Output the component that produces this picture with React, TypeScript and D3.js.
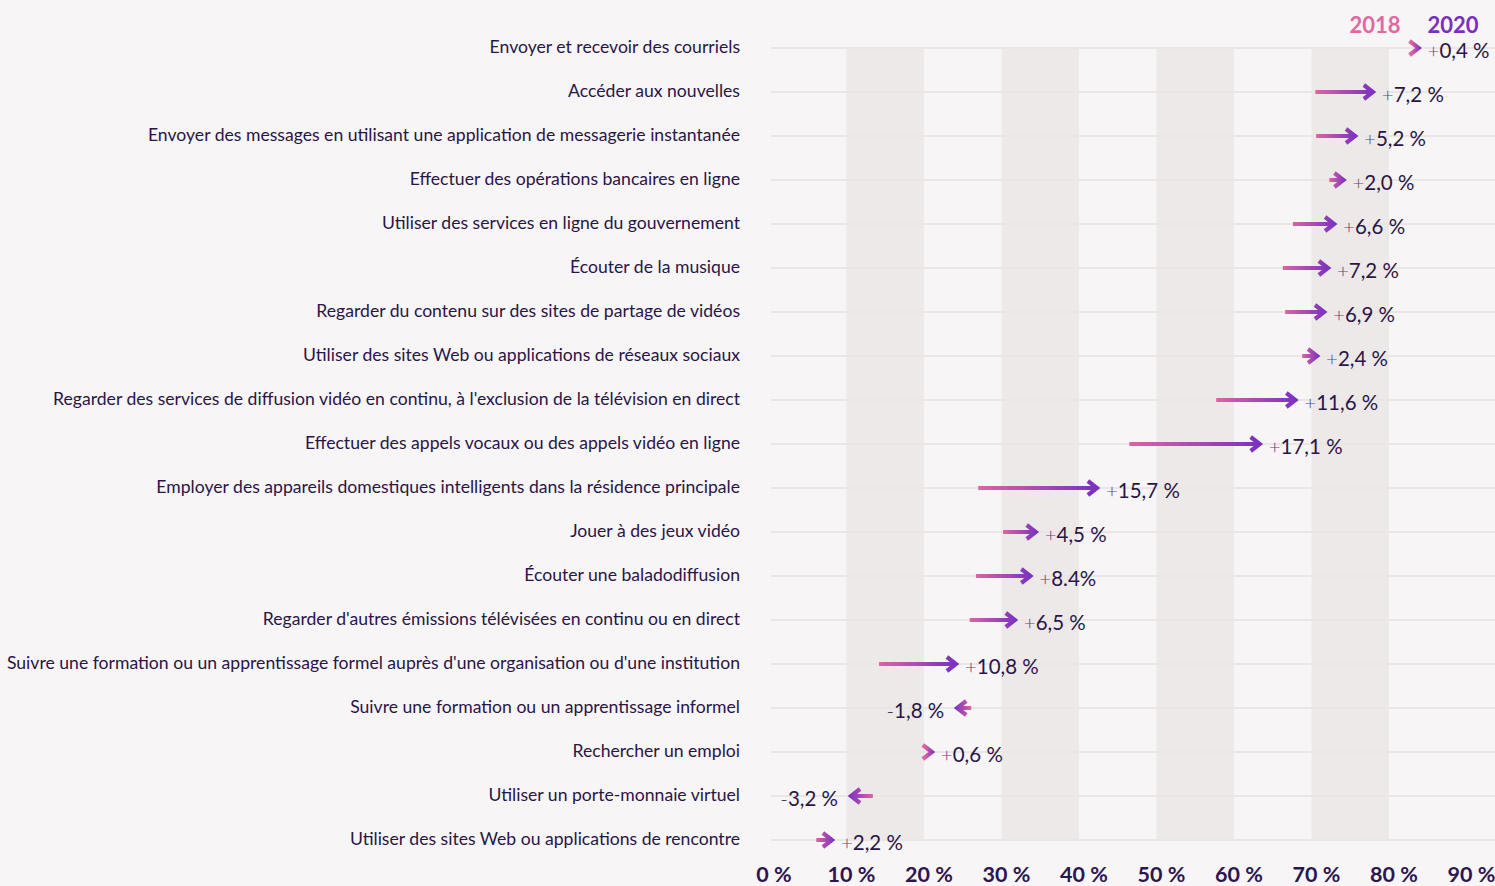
import * as d3 from "d3";
import { useEffect } from "react";

const categories: string[] = [
  "Envoyer et recevoir des courriels",
  "Accéder aux nouvelles",
  "Envoyer des messages en utilisant une application de messagerie instantanée",
  "Effectuer des opérations bancaires en ligne",
  "Utiliser des services en ligne du gouvernement",
  "Écouter de la musique",
  "Regarder du contenu sur des sites de partage de vidéos",
  "Utiliser des sites Web ou applications de réseaux sociaux",
  "Regarder des services de diffusion vidéo en continu, à l'exclusion de la télévision en direct",
  "Effectuer des appels vocaux ou des appels vidéo en ligne",
  "Employer des appareils domestiques intelligents dans la résidence principale",
  "Jouer à des jeux vidéo",
  "Écouter une baladodiffusion",
  "Regarder d'autres émissions télévisées en continu ou en direct",
  "Suivre une formation ou un apprentissage formel auprès d'une organisation ou d'une institution",
  "Suivre une formation ou un apprentissage informel",
  "Rechercher un emploi",
  "Utiliser un porte-monnaie virtuel",
  "Utiliser des sites Web ou applications de rencontre",
];

const values2018: number[] = [83.8, 70.5, 70.6, 72.3, 67.6, 66.3, 66.6, 68.8, 57.7, 46.5, 27.0, 30.2, 26.7, 25.9, 14.2, 26.1, 20.8, 13.4, 6.1];
const values2020: number[] = [84.2, 78.3, 76.0, 74.5, 73.3, 72.5, 72.0, 71.1, 68.3, 63.7, 42.7, 34.8, 34.1, 32.1, 24.5, 23.9, 21.4, 10.2, 8.5];
const changeLabels: string[] = [
  "+0,4 %", "+7,2 %", "+5,2 %", "+2,0 %", "+6,6 %", "+7,2 %", "+6,9 %", "+2,4 %", "+11,6 %", "+17,1 %",
  "+15,7 %", "+4,5 %", "+8.4%", "+6,5 %", "+10,8 %", "-1,8 %", "+0,6 %", "-3,2 %", "+2,2 %",
];
const ticks: number[] = [0, 10, 20, 30, 40, 50, 60, 70, 80, 90];
const bandStarts: number[] = [10, 30, 50, 70];
const years: string[] = ["2018", "2020"];

const W = 1495;
const H = 886;
const PINK = "#dc64a0";
const PURPLE = "#7630c2";
const TEXT = "#2a1646";

export default function App() {
  useEffect(() => {
    document.body.style.margin = "0";
    document.body.style.background = "#f7f5f6";
  }, []);

  const x = d3.scaleLinear().domain([0, 90]).range([769, 1466.5]);
  const y = d3.scaleBand<string>().domain(categories).range([26, 862]).padding(0);
  const cy = (c: string) => (y(c) as number) + y.bandwidth() / 2;
  const top = cy(categories[0]);
  const bottom = cy(categories[categories.length - 1]);
  const font = "Lato, 'Noto Sans', sans-serif";

  return (
    <svg width={W} height={H} style={{ display: "block", background: "#f7f5f6", fontFamily: font }}>
      <defs>
        {categories.map((c, i) => {
          const x0 = x(values2018[i]);
          const x1 = x(values2020[i]);
          const fwd = x1 >= x0;
          const a = fwd ? Math.min(x0, x1 - 10) : Math.max(x0, x1 + 10);
          return (
            <linearGradient key={i} id={`g${i}`} gradientUnits="userSpaceOnUse" x1={a} x2={x1} y1={0} y2={0}>
              <stop offset="0%" stopColor={PINK} />
              <stop offset="100%" stopColor={PURPLE} />
            </linearGradient>
          );
        })}
      </defs>

      {/* shaded bands */}
      {bandStarts.map((b) => (
        <rect key={b} x={x(b)} width={x(b + 10) - x(b)} y={top} height={bottom - top} fill="#ede9e8" />
      ))}

      {/* row grid lines */}
      {categories.map((c) => (
        <line key={c} x1={771} x2={W} y1={cy(c)} y2={cy(c)} stroke="#ebe5e3" strokeWidth={2} />
      ))}

      {/* category labels */}
      {categories.map((c) => (
        <text key={c} x={740} y={cy(c) - 2} textAnchor="end" dominantBaseline="central" fontSize={17.6} fill={TEXT}>
          {c}
        </text>
      ))}

      {/* arrows */}
      {categories.map((c, i) => {
        const x0 = x(values2018[i]);
        const x1 = x(values2020[i]);
        const yy = cy(c);
        const dir = x1 >= x0 ? 1 : -1;
        const tip = x1 - dir * 3;
        const head = 9;
        const lineEnd = tip - dir * 3;
        const label = changeLabels[i];
        const sign = label.charAt(0);
        const rest = label.slice(1);
        return (
          <g key={c}>
            {(lineEnd - x0) * dir > 1 && (
              <line x1={x0} x2={lineEnd} y1={yy} y2={yy} stroke={`url(#g${i})`} strokeWidth={4} />
            )}
            <polyline
              points={`${tip - dir * head},${yy - 7} ${tip},${yy} ${tip - dir * head},${yy + 7}`}
              fill="none"
              stroke={`url(#g${i})`}
              strokeWidth={4.2}
              strokeLinejoin="miter"
            />
            <text
              x={dir > 0 ? x1 + 6 : x1 - 10}
              y={yy + 2}
              textAnchor={dir > 0 ? "start" : "end"}
              dominantBaseline="central"
              fontSize={20.5}
              fill={TEXT}
            >
              <tspan fontWeight={300} fill={sign === "+" ? "#5b4a70" : TEXT}>{sign}</tspan>
              {rest}
            </text>
          </g>
        );
      })}

      {/* x axis labels */}
      {ticks.map((t) => (
        <text key={t} x={x(t) + 5} y={874} textAnchor="middle" dominantBaseline="central" fontSize={21.5} fontWeight={700} fill="#2d1650">
          {`${t} %`}
        </text>
      ))}

      {/* legend */}
      {years.map((yr, i) => (
        <text key={yr} x={i === 0 ? 1375 : 1453} y={24} textAnchor="middle" dominantBaseline="central" fontSize={22} fontWeight={700} fill={i === 0 ? "#e0699f" : "#7a2fc0"}>
          {yr}
        </text>
      ))}
    </svg>
  );
}
